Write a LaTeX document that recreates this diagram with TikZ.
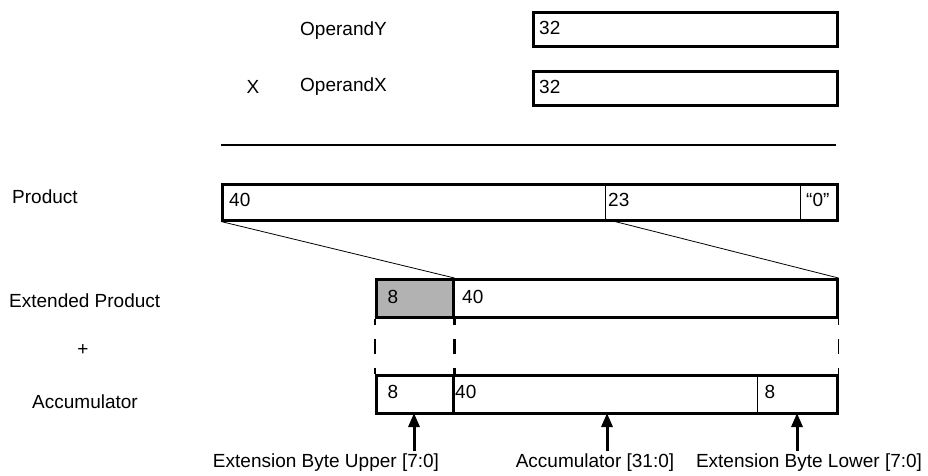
\documentclass[tikz,border=0pt]{standalone}
\usepackage{fontspec}
\setmainfont{Liberation Sans}
\usetikzlibrary{arrows.meta}

\tikzset{
  reg/.style={draw, line width=2.5pt, anchor=north west, inner sep=0pt},
  fld/.style={anchor=west, inner sep=0pt},
  divider/.style={line width=0.8pt},
  gap/.style={line width=2.5pt, dash pattern=on 15pt off 14pt, dash phase=9pt},
  arr/.style={line width=3pt, -{Triangle[width=11pt,length=14pt]}},
}

\begin{document}
\begin{tikzpicture}[x=1pt, y=-1pt, font=\fontsize{19}{22}\selectfont]
    \useasboundingbox (0,0) rectangle (928,475);

    % operands
    \node[fld] (nameY) at (300,31) {OperandY};
    \node (times) at (253,87) {X};
    \node[fld] (nameX) at (300,87) {OperandX};
    \node[reg, minimum width=304pt, minimum height=34pt] (opy) at (532,11) {};
    \node[reg, minimum width=304pt, minimum height=34pt] (opx) at (532,70) {};
    \node[fld] at (539,28) {32};
    \node[fld] at (539,87) {32};

    \coordinate (ruleL) at (221,145);
    \coordinate (ruleR) at (836,145);
    \draw[line width=2.5pt] (ruleL) -- (ruleR);

    % product
    \node[fld] (nameP) at (12,197) {Product};
    \node[reg, minimum width=615pt, minimum height=36pt] (prod) at (221,183) {};
    \coordinate (d23t) at (605,183);
    \coordinate (d23) at (605,219);
    \coordinate (d0t) at (800,183);
    \coordinate (d0) at (800,219);
    \draw[divider] (d23t) -- (d23);
    \draw[divider] (d0t) -- (d0);
    \node[fld] at (229,200) {40};
    \node[fld] at (608,200) {23};
    \node[fld] at (806,200) {“0”};

    % extended product
    \node[fld] (nameE) at (9,301) {Extended Product};
    \node[reg, fill=black!30, minimum width=77pt, minimum height=38pt] (ext8) at (375,278) {};
    \node[reg, minimum width=384pt, minimum height=38pt] (ext40) at (452,278) {};
    \node at (393,297) {8};
    \node[fld] at (462,297) {40};
    \draw[divider] (prod.south west) -- (ext8.north east);
    \draw[divider] (d23) -- (ext40.north east);

    \node (plus) at (83,350) {+};

    % accumulator
    \node[fld] (nameA) at (32,402) {Accumulator};
    \node[reg, minimum width=77pt, minimum height=38pt] (acc8) at (375,374) {};
    \node[reg, minimum width=384pt, minimum height=38pt] (acc40) at (452,374) {};
    \coordinate (d8t) at (757,374);
    \coordinate (d8) at (757,412);
    \draw[divider] (d8t) -- (d8);
    \node at (393,392) {8};
    \node[fld] at (455,392) {40};
    \node at (770,392) {8};

    \draw[gap] (ext8.south west) -- (acc8.north west);
    \draw[gap] (ext8.south east) -- (acc8.north east);
    \draw[divider, dash pattern=on 15pt off 14pt, dash phase=9pt] (ext40.south east) -- (acc40.north east);

    % byte fields
    \node (extU) at (326,463) {Extension Byte Upper [7:0]};
    \node (accL) at (595,463) {Accumulator [31:0]};
    \node (extL) at (809,463) {Extension Byte Lower [7:0]};
    \coordinate (tipU) at (414,413);
    \coordinate (tipA) at (607,413);
    \coordinate (tipL) at (797,413);
    \draw[arr] (extU.north -| tipU) -- (tipU);
    \draw[arr] (accL.north -| tipA) -- (tipA);
    \draw[arr] (extL.north -| tipL) -- (tipL);
\end{tikzpicture}
\end{document}
